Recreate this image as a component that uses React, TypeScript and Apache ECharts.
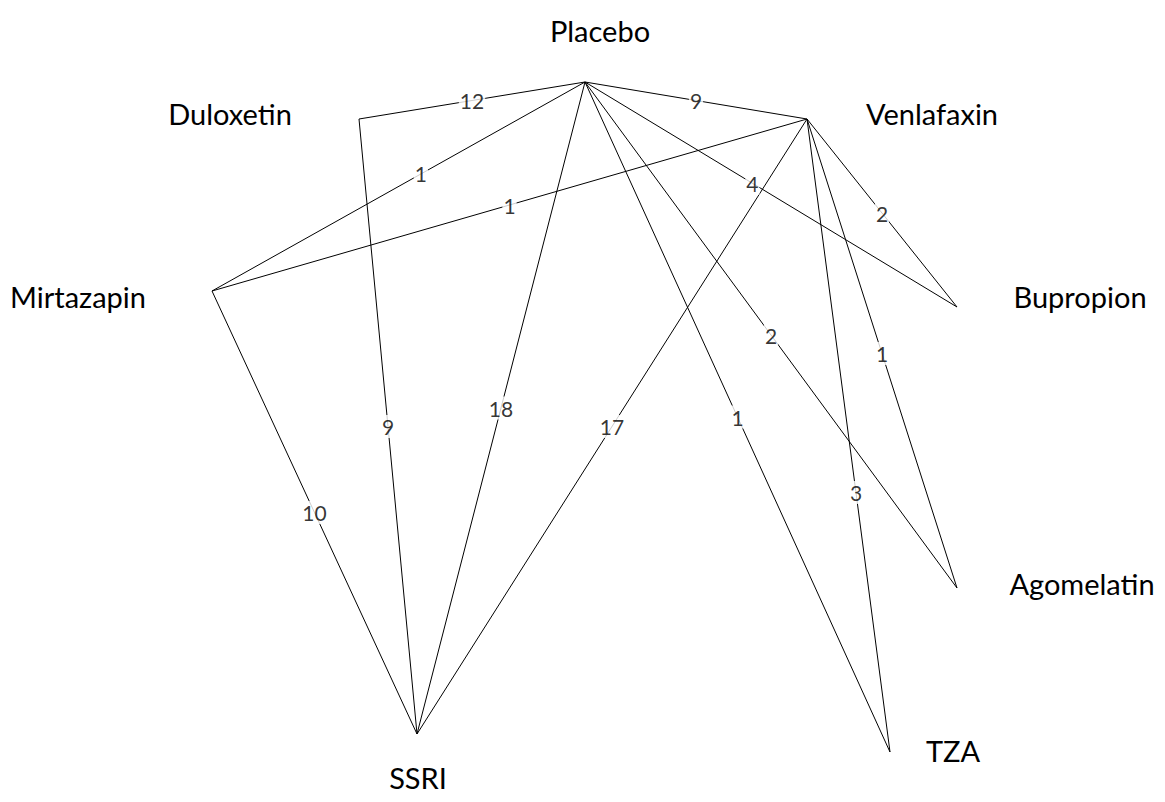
import React, { useEffect, useRef } from "react";
import * as echarts from "echarts";

// Network nodes (layout positions of the original diagram)
const nodeNames = ["Placebo", "Venlafaxin", "Duloxetin", "Mirtazapin", "Bupropion", "Agomelatin", "TZA", "SSRI"];
const nodeX = [585, 807, 359, 212, 957, 957, 890, 417];
const nodeY = [82, 119, 119, 291, 307, 588, 752, 734];

// Edges: number of direct comparisons
const edgeSource = ["Placebo", "Placebo", "Placebo", "Placebo", "Placebo", "Placebo", "Placebo", "Venlafaxin", "Venlafaxin", "Venlafaxin", "Venlafaxin", "Venlafaxin", "Duloxetin", "Mirtazapin"];
const edgeTarget = ["Duloxetin", "Venlafaxin", "Mirtazapin", "Bupropion", "SSRI", "TZA", "Agomelatin", "Mirtazapin", "Bupropion", "SSRI", "Agomelatin", "TZA", "SSRI", "SSRI"];
const edgeCount = [12, 9, 1, 4, 18, 1, 2, 1, 2, 17, 1, 3, 9, 10];

// Layout-only settings (label placement)
const edgeLabelT = [0.5, 0.5, 0.44, 0.45, 0.5, 0.5, 0.5, 0.5, 0.5, 0.5, 0.5, 0.59, 0.5, 0.5];
const nodeLabelOffset: [number, number][] = [
  [15, -52], [125, -6], [-129, -6], [-134, 5], [123, -11], [125, -5], [63, -2], [1, 43],
];

const W = 1165;
const H = 802;
const FONT = "Lato, 'Open Sans', sans-serif";

export default function App() {
  const ref = useRef<HTMLDivElement>(null);
  useEffect(() => {
    if (!ref.current) return;
    const chart = echarts.init(ref.current, undefined, { renderer: "svg" });
    const idx = (n: string) => nodeNames.indexOf(n);
    const nodes = nodeNames.map((name, i) => ({
      name,
      value: [nodeX[i], nodeY[i]],
      label: { offset: nodeLabelOffset[i] },
    }));
    const links = edgeSource.map((s, i) => ({ source: s, target: edgeTarget[i], value: edgeCount[i] }));
    const labelPoints = edgeSource.map((s, i) => {
      const a = idx(s);
      const b = idx(edgeTarget[i]);
      const t = edgeLabelT[i];
      return {
        value: [nodeX[a] + (nodeX[b] - nodeX[a]) * t, nodeY[a] + (nodeY[b] - nodeY[a]) * t, edgeCount[i]],
      };
    });
    chart.setOption({
      animation: false,
      backgroundColor: "#ffffff",
      grid: { left: 0, right: 0, top: 0, bottom: 0 },
      xAxis: { type: "value", min: 0, max: W, show: false },
      yAxis: { type: "value", min: 0, max: H, inverse: true, show: false },
      series: [
        {
          type: "graph",
          coordinateSystem: "cartesian2d",
          layout: "none",
          symbolSize: 0,
          data: nodes,
          links,
          lineStyle: { color: "#000", width: 1, opacity: 1, curveness: 0 },
          label: {
            show: true,
            position: "inside",
            color: "#000",
            fontFamily: FONT,
            fontWeight: "normal",
            fontSize: 29,
            textBorderWidth: 0,
          },
          emphasis: { disabled: true },
          silent: true,
          z: 1,
        },
        {
          type: "scatter",
          symbolSize: 0,
          data: labelPoints,
          label: {
            show: true,
            position: "inside",
            formatter: (p: any) => String(p.value[2]),
            color: "#000",
            fontFamily: FONT,
            fontWeight: "normal",
            fontSize: 21,
            textBorderWidth: 0,
            backgroundColor: "#fff",
            padding: [1, 1],
          },
          silent: true,
          z: 3,
        },
      ],
    });
    return () => chart.dispose();
  }, []);
  return (
    <div
      ref={ref}
      style={{ position: "fixed", left: 0, top: 0, width: W, height: H, background: "#fff" }}
    />
  );
}
